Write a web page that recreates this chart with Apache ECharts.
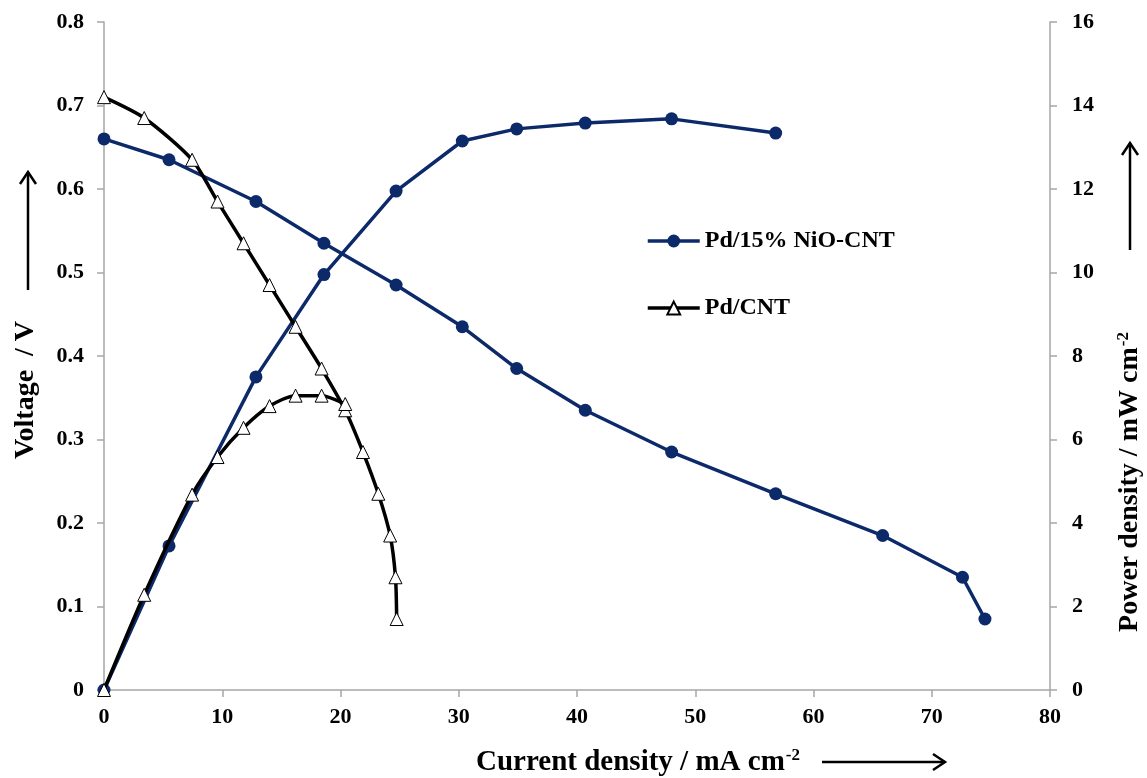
<!DOCTYPE html>
<html>
<head>
<meta charset="utf-8">
<script src="https://cdn.jsdelivr.net/npm/echarts@6/dist/echarts.min.js"></script>
<style>
  html, body { margin: 0; padding: 0; background: #fff; }
  #chart { width: 1147px; height: 778px; }
</style>
</head>
<body>
<div id="chart"></div>
<script>
// Pd/15% NiO-CNT: current density (mA cm-2), cell voltage (V), power density (mW cm-2)
const nioCurrent = [0, 5.5, 12.85, 18.6, 24.7, 30.3, 34.9, 40.7, 48.0, 56.8, 65.85, 72.6, 74.5];
const nioVoltage = [0.66, 0.635, 0.585, 0.535, 0.485, 0.435, 0.385, 0.335, 0.285, 0.235, 0.185, 0.135, 0.085];
const nioPower   = [0, 3.45, 7.5, 9.95, 11.95, 13.15, 13.44, 13.58, 13.68, 13.34];

// Pd/CNT
const cntCurrent = [0, 3.4, 7.45, 9.6, 11.8, 14.0, 16.2, 18.4, 20.4, 21.9, 23.2, 24.2, 24.65, 24.75];
const cntVoltage = [0.71, 0.685, 0.635, 0.585, 0.535, 0.485, 0.435, 0.385, 0.335, 0.285, 0.235, 0.185, 0.135, 0.085];
const cntPower   = [0, 2.28, 4.68, 5.58, 6.28, 6.8, 7.05, 7.05, 6.85];

const nioName = 'Pd/15% NiO-CNT';
const cntName = 'Pd/CNT';

const pairs = (xs, ys) => ys.map((y, i) => [xs[i], y]);

const FONT = 'Liberation Serif, Times New Roman, serif';
const NAVY = '#0c2a6a';
const AXIS_GREY = '#a6a6a6';

const labelStyle = { fontFamily: FONT, fontWeight: 'bold', fontSize: 22, color: '#000' };

const chart = echarts.init(document.getElementById('chart'));

const nioStyle = {
  type: 'line',
  symbol: 'circle',
  symbolSize: 13,
  itemStyle: { color: NAVY },
  lineStyle: { color: NAVY, width: 3.5 },
  z: 2
};
const cntStyle = {
  type: 'line',
  symbol: 'triangle',
  symbolSize: 13,
  smooth: 0.25,
  itemStyle: { color: '#fff', borderColor: '#000', borderWidth: 1 },
  lineStyle: { color: '#000', width: 3.5 },
  z: 3
};

function titleRich(size) {
  return {
    t: { fontFamily: FONT, fontWeight: 'bold', fontSize: size, color: '#000', lineHeight: size + 6 },
    s: { fontFamily: FONT, fontWeight: 'bold', fontSize: Math.round(size * 0.6), color: '#000', lineHeight: size + 6, verticalAlign: 'top', padding: [2, 0, 0, 1] }
  };
}

function arrow(points) {
  return {
    type: 'polyline',
    shape: { points: points },
    style: { stroke: '#000', lineWidth: 2.5, fill: null },
    silent: true
  };
}

chart.setOption({
  animation: false,
  backgroundColor: '#fff',
  grid: { left: 104, right: 97, top: 22, bottom: 88, containLabel: false },
  legend: {
    data: [nioName, cntName],
    orient: 'vertical',
    left: 646,
    top: 229,
    padding: 0,
    itemGap: 43,
    itemWidth: 52,
    itemHeight: 16,
    lineStyle: { width: 3.5 },
    textStyle: { fontFamily: FONT, fontWeight: 'bold', fontSize: 24, color: '#000' }
  },
  xAxis: {
    type: 'value',
    min: 0, max: 80, interval: 10,
    axisLine: { show: true, lineStyle: { color: AXIS_GREY, width: 1.5 } },
    axisTick: { show: true, length: 7, lineStyle: { color: AXIS_GREY, width: 1.5 } },
    axisLabel: Object.assign({ margin: 16 }, labelStyle),
    splitLine: { show: false }
  },
  yAxis: [
    {
      type: 'value',
      position: 'left',
      min: 0, max: 0.8, interval: 0.1,
      axisLine: { show: true, onZero: false, lineStyle: { color: AXIS_GREY, width: 1.5 } },
      axisTick: { show: true, length: 7, lineStyle: { color: AXIS_GREY, width: 1.5 } },
      axisLabel: Object.assign({ margin: 20 }, labelStyle),
      splitLine: { show: false }
    },
    {
      type: 'value',
      position: 'right',
      min: 0, max: 16, interval: 2,
      axisLine: { show: true, onZero: false, lineStyle: { color: AXIS_GREY, width: 1.5 } },
      axisTick: { show: true, length: 7, lineStyle: { color: AXIS_GREY, width: 1.5 } },
      axisLabel: Object.assign({ margin: 22 }, labelStyle),
      splitLine: { show: false }
    }
  ],
  series: [
    Object.assign({ name: nioName, yAxisIndex: 0, data: pairs(nioCurrent, nioVoltage) }, nioStyle),
    Object.assign({ name: nioName, yAxisIndex: 1, data: pairs(nioCurrent, nioPower) }, nioStyle),
    Object.assign({ name: cntName, yAxisIndex: 0, data: pairs(cntCurrent, cntVoltage) }, cntStyle),
    Object.assign({ name: cntName, yAxisIndex: 1, data: pairs(cntCurrent, cntPower) }, cntStyle)
  ],
  graphic: [
    {
      type: 'text',
      x: 26, y: 390,
      rotation: Math.PI / 2,
      style: {
        text: 'Voltage  / V',
        font: 'bold 28px ' + FONT,
        fill: '#000',
        align: 'center',
        verticalAlign: 'middle'
      }
    },
    {
      type: 'text',
      x: 1130, y: 482,
      rotation: Math.PI / 2,
      style: {
        text: '{t|Power density / mW cm}{s|-2}',
        rich: titleRich(28),
        align: 'center',
        verticalAlign: 'middle'
      }
    },
    {
      type: 'text',
      x: 638, y: 763,
      style: {
        text: '{t|Current density / mA cm}{s|-2}',
        rich: titleRich(29),
        align: 'center',
        verticalAlign: 'middle'
      }
    },
    arrow([[28, 290], [28, 172]]),
    arrow([[20, 184], [28, 172], [36, 184]]),
    arrow([[1130, 250], [1130, 143]]),
    arrow([[1122, 155], [1130, 143], [1138, 155]]),
    arrow([[822, 762], [945, 762]]),
    arrow([[933, 754], [945, 762], [933, 770]])
  ]
});
</script>
</body>
</html>
